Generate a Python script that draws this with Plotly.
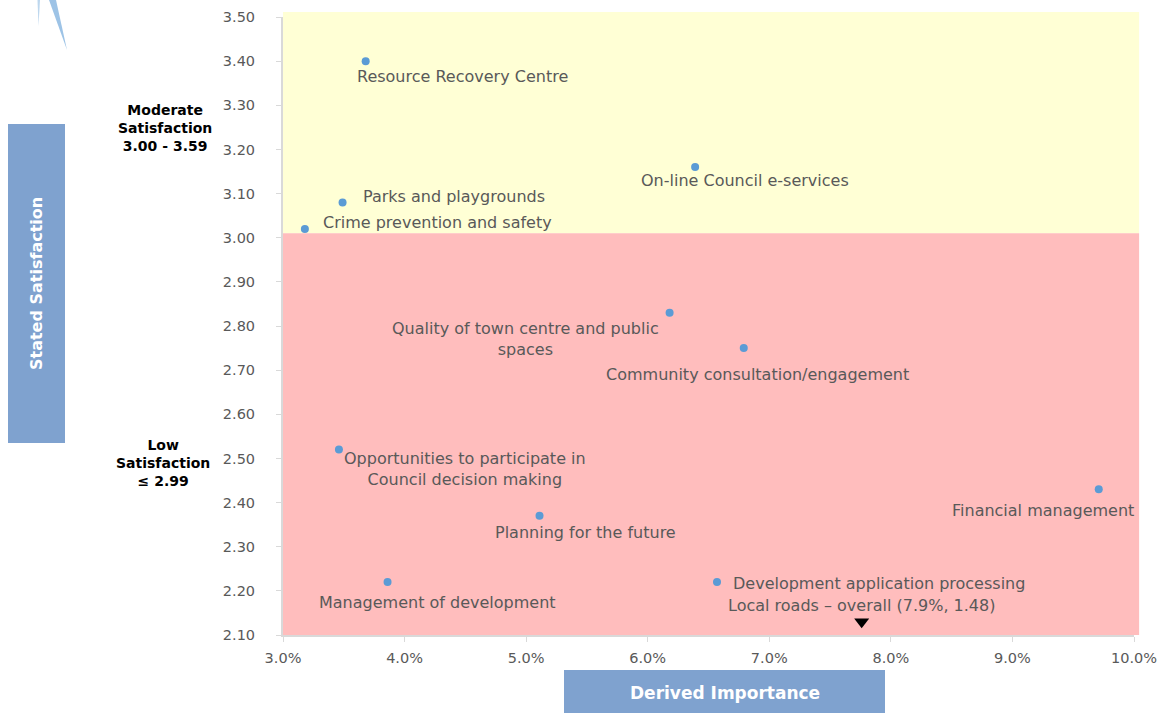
import plotly.graph_objects as go

# ---- data ----
labels = [
    "Resource Recovery Centre",
    "On-line Council e-services",
    "Parks and playgrounds",
    "Crime prevention and safety",
    "Quality of town centre and public<br>spaces",
    "Community consultation/engagement",
    "Opportunities to participate in<br>Council decision making",
    "Financial management",
    "Planning for the future",
    "Management of development",
    "Development application processing",
]
importance = [3.68, 6.39, 3.49, 3.18, 6.18, 6.79, 3.46, 9.71, 5.11, 3.86, 6.57]
satisfaction = [3.40, 3.16, 3.08, 3.02, 2.83, 2.75, 2.52, 2.43, 2.37, 2.22, 2.22]

offpoint_label = "Local roads \u2013 overall (7.9%, 1.48)"
offpoint_x = [7.76]
offpoint_y = [2.13]

x_ticks = [3, 4, 5, 6, 7, 8, 9, 10]
x_ticktext = ["3.0%", "4.0%", "5.0%", "6.0%", "7.0%", "8.0%", "9.0%", "10.0%"]
y_ticks = [2.1, 2.2, 2.3, 2.4, 2.5, 2.6, 2.7, 2.8, 2.9, 3.0, 3.1, 3.2, 3.3, 3.4, 3.5]
y_ticktext = ["2.10", "2.20", "2.30", "2.40", "2.50", "2.60", "2.70", "2.80", "2.90",
              "3.00", "3.10", "3.20", "3.30", "3.40", "3.50"]
x_range = [3, 10]
y_range = [2.10, 3.50]
zone_split = 3.01

# ---- label offsets (style) : anchor, dx, dy (pixels, screen down positive)
label_style = [
    ("left", -11, 15),
    ("left", -56, 13),
    ("left", 18, -6),
    ("left", 16, -6),
    ("center", -144, 26),
    ("center", 14, 26),
    ("center", 126, 19),
    ("center", -56, 21),
    ("center", 46, 17),
    ("center", 50, 20),
    ("left", 14, 1),
]

FONT = "DejaVu Sans"
GRAY = "#595959"
BLUE_BOX = "#7FA2CF"
LABEL_SIZE = 16

fig = go.Figure()

fig.add_trace(go.Scatter(
    x=importance, y=satisfaction, mode="markers",
    marker=dict(color="#5B9BD5", size=8), hoverinfo="text", text=labels,
    cliponaxis=False,
))
fig.add_trace(go.Scatter(
    x=offpoint_x, y=offpoint_y, mode="markers",
    marker=dict(color="black", size=13, symbol="triangle-down"),
    cliponaxis=False,
))

annotations = []
for lab, xv, yv, (anc, dx, dy) in zip(labels, importance, satisfaction, label_style):
    annotations.append(dict(
        x=xv, y=yv, xref="x", yref="y", text=lab, showarrow=False,
        xanchor=anc, yanchor="middle", align="center",
        xshift=dx, yshift=-dy, font=dict(family=FONT, size=LABEL_SIZE, color=GRAY),
    ))
annotations.append(dict(
    x=offpoint_x[0], y=offpoint_y[0], xref="x", yref="y", text=offpoint_label,
    showarrow=False, xanchor="center", yanchor="middle", yshift=16,
    font=dict(family=FONT, size=LABEL_SIZE, color=GRAY),
))

def py(v):
    return (v - y_range[0]) / (y_range[1] - y_range[0])

split_p = py(zone_split)

shapes = [
    dict(type="rect", xref="paper", yref="paper", x0=0, x1=1.006, y0=split_p, y1=1.008,
         fillcolor="#FFFFD5", line=dict(width=0), layer="below"),
    dict(type="rect", xref="paper", yref="paper", x0=0, x1=1.006, y0=0, y1=split_p,
         fillcolor="#FFBDBD", line=dict(width=0), layer="below"),
]

W, H = 1162, 713
L, R, T, B = 283, 28, 17, 78
pw, ph = W - L - R, H - T - B

def px2p(xp):
    return (xp - L) / pw

def py2p(yp):
    return (H - B - yp) / ph

shapes.append(dict(type="rect", xref="paper", yref="paper",
                   x0=px2p(8), x1=px2p(65), y0=py2p(443), y1=py2p(124),
                   fillcolor=BLUE_BOX, line=dict(width=0)))
shapes.append(dict(type="rect", xref="paper", yref="paper",
                   x0=px2p(564), x1=px2p(885), y0=py2p(713), y1=py2p(670),
                   fillcolor=BLUE_BOX, line=dict(width=0)))
shapes.append(dict(type="path", xref="paper", yref="paper",
                   path="M {} {} L {} {} L {} {} Z".format(px2p(49), py2p(0), px2p(56), py2p(0), px2p(67), py2p(50)),
                   fillcolor="#9DC3E6", line=dict(width=0)))
shapes.append(dict(type="path", xref="paper", yref="paper",
                   path="M {} {} L {} {} L {} {} Z".format(px2p(37.5), py2p(0), px2p(40), py2p(0), px2p(38.5), py2p(26)),
                   fillcolor="#BDD7EE", line=dict(width=0)))

annotations += [
    dict(xref="paper", yref="paper", x=px2p(36.5), y=py2p(283.5), text="<b>Stated Satisfaction</b>",
         textangle=-90, showarrow=False, font=dict(family=FONT, size=16, color="white"),
         xanchor="center", yanchor="middle"),
    dict(xref="paper", yref="paper", x=px2p(724.5), y=py2p(693), text="<b>Derived Importance</b>",
         showarrow=False, font=dict(family=FONT, size=17, color="white"),
         xanchor="center", yanchor="middle"),
    dict(xref="paper", yref="paper", x=px2p(165), y=py2p(128), text="<b>Moderate<br>Satisfaction<br>3.00 - 3.59</b>",
         showarrow=False, font=dict(family=FONT, size=14, color="black"), align="center",
         xanchor="center", yanchor="middle"),
    dict(xref="paper", yref="paper", x=px2p(163), y=py2p(463), text="<b>Low<br>Satisfaction<br>\u2264 2.99</b>",
         showarrow=False, font=dict(family=FONT, size=14, color="black"), align="center",
         xanchor="center", yanchor="middle"),
]

fig.update_layout(
    width=W, height=H, margin=dict(l=L, r=R, t=T, b=B, autoexpand=False),
    plot_bgcolor="white", paper_bgcolor="white", showlegend=False,
    shapes=shapes, annotations=annotations,
    font=dict(family=FONT, color=GRAY),
)
fig.update_xaxes(range=x_range, tickmode="array", tickvals=x_ticks, ticktext=x_ticktext,
                 automargin=False,
                 showgrid=False, zeroline=False, showline=True, linecolor="#D9D9D9", linewidth=2,
                 ticks="outside", ticklen=5, tickcolor="#D9D9D9", tickwidth=1,
                 ticklabelstandoff=4,
                 tickfont=dict(family=FONT, size=14.5, color=GRAY))
fig.update_yaxes(range=y_range, tickmode="array", tickvals=y_ticks, ticktext=y_ticktext,
                 automargin=False,
                 showgrid=False, zeroline=False, showline=True, linecolor="#D9D9D9", linewidth=2,
                 ticks="outside", ticklen=5, tickcolor="#D9D9D9", tickwidth=1,
                 ticklabelstandoff=18,
                 tickfont=dict(family=FONT, size=14.5, color=GRAY))

fig.write_html(
    "out.html",
    config={"displayModeBar": False},
    post_script="document.documentElement.style.overflow='hidden';document.body.style.margin='0';document.body.style.overflow='hidden';",
)
